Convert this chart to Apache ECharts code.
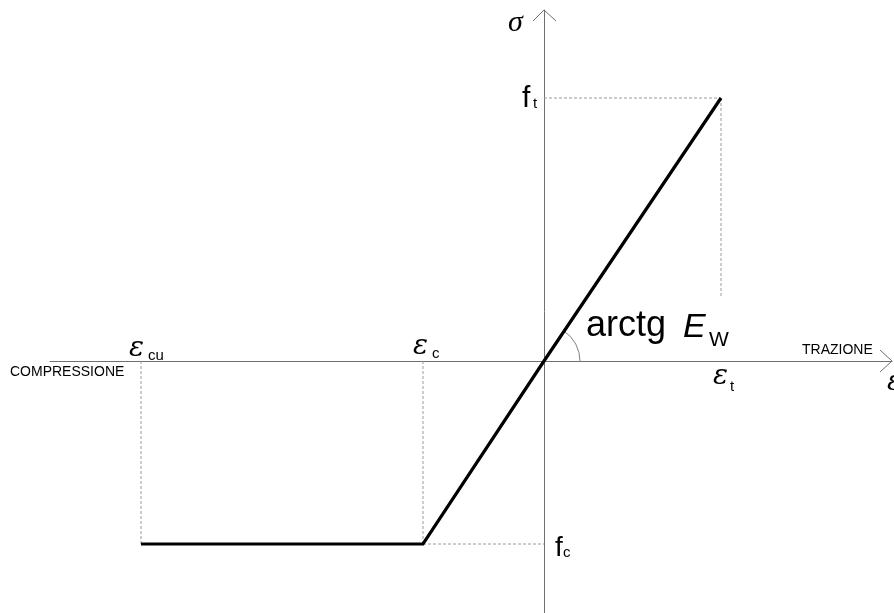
<!DOCTYPE html>
<html>
<head>
<meta charset="utf-8">
<script src="https://cdn.jsdelivr.net/npm/echarts@6/dist/echarts.min.js"></script>
<style>
  html, body { margin: 0; padding: 0; background: #fff; }
  #chart { width: 894px; height: 613px; }
</style>
</head>
<body>
<div id="chart"></div>
<script>
// Bilinear stress-strain law: compression plateau, linear elastic branch up to tensile strength.
const strainPoints = [-4.03, -1.21, 0, 1.77];   // eps_cu, eps_c, origin, eps_t
const stressPoints = [-1.83, -1.83, 0, 2.63];   // f_c, f_c, origin, f_t
const tensionGuideEnd = 0.65;                   // where the eps_t guide stops
const axisX = [-4.94, 3.48];
const axisY = [-2.52, 3.51];

const epsCu = strainPoints[0], epsC = strainPoints[1], epsT = strainPoints[3];
const fC = stressPoints[0], fT = stressPoints[3];

const lawData = strainPoints.map((e, i) => [e, stressPoints[i]]);

const guideStyle = { color: '#9a9a9a', width: 1, type: [3, 2] };
function guide(a, b) {
  return {
    type: 'line', data: [a, b], symbol: 'none', silent: true,
    lineStyle: guideStyle, z: 1
  };
}

const chart = echarts.init(document.getElementById('chart'), null, { renderer: 'canvas' });

chart.setOption({
  animation: false,
  backgroundColor: '#fff',
  grid: { left: 50, right: 2, top: 10, bottom: 0, containLabel: false },
  xAxis: {
    type: 'value', min: axisX[0], max: axisX[1],
    axisLine: { show: true, onZero: true, lineStyle: { color: '#707070', width: 1 } },
    axisTick: { show: false }, axisLabel: { show: false }, splitLine: { show: false }
  },
  yAxis: {
    type: 'value', min: axisY[0], max: axisY[1],
    axisLine: { show: true, onZero: true, lineStyle: { color: '#707070', width: 1 } },
    axisTick: { show: false }, axisLabel: { show: false }, splitLine: { show: false }
  },
  series: [
    guide([0, fT], [epsT, fT]),
    guide([epsT, fT], [epsT, tensionGuideEnd]),
    guide([epsCu, 0], [epsCu, fC]),
    guide([epsC, 0], [epsC, fC]),
    guide([epsC, fC], [0, fC]),
    {
      type: 'line', data: lawData, symbol: 'none', silent: true, z: 5,
      lineStyle: { color: '#000', width: 3.2, cap: 'butt', join: 'miter' }
    }
  ]
});

// Decorations positioned from the axis scale
const originPx = chart.convertToPixel({ gridIndex: 0 }, [0, 0]);
const yEndPx = chart.convertToPixel({ gridIndex: 0 }, [0, axisY[1]]);
const xEndPx = chart.convertToPixel({ gridIndex: 0 }, [axisX[1], 0]);
const tipPx = chart.convertToPixel({ gridIndex: 0 }, [epsT, fT]);
const slopeAngle = Math.atan2(originPx[1] - tipPx[1], tipPx[0] - originPx[0]);

const SANS = '"Liberation Sans", Arial, sans-serif';
const SERIF = '"Liberation Serif", "Times New Roman", serif';
const EPS = '"DejaVu Serif", serif';

function label(text, x, baseline, size, family, extra) {
  return {
    type: 'text', z: 10, silent: true,
    style: Object.assign({
      text: text, x: x, y: baseline - 0.33 * size,
      fill: '#000', align: 'left', verticalAlign: 'middle',
      font: size + 'px ' + family
    }, extra || {})
  };
}
function italic(text, x, baseline, size, family) {
  return label(text, x, baseline, size, family, { font: 'italic ' + size + 'px ' + family });
}

const arrowStyle = { stroke: '#707070', lineWidth: 1, fill: null };

chart.setOption({
  graphic: [
    { type: 'polyline', silent: true, shape: { points: [[yEndPx[0] - 11, yEndPx[1] + 11], [yEndPx[0], yEndPx[1]], [yEndPx[0] + 12, yEndPx[1] + 11]] }, style: arrowStyle },
    { type: 'polyline', silent: true, shape: { points: [[xEndPx[0] - 12, xEndPx[1] - 11], [xEndPx[0], xEndPx[1]], [xEndPx[0] - 12, xEndPx[1] + 11]] }, style: arrowStyle },
    {
      type: 'arc', silent: true,
      shape: { cx: originPx[0], cy: originPx[1], r: 36, startAngle: -slopeAngle, endAngle: 0, clockwise: true },
      style: { stroke: '#808080', lineWidth: 1, fill: null }
    },
    italic('σ', 508, 33, 30, SERIF),
    label('f', 522, 109, 30, SANS),
    label('t', 533, 109, 15, SANS),
    italic('ε', 129, 358, 28, EPS),
    label('cu', 148, 361, 15, SANS),
    italic('ε', 413, 356, 28, EPS),
    label('c', 432, 359, 15, SANS),
    italic('ε', 713, 386, 28, EPS),
    label('t', 730, 392, 15, SANS),
    italic('ε', 887, 392, 28, EPS),
    label('f', 555, 558, 28, SANS),
    label('c', 563, 558, 15, SANS),
    label('arctg', 586, 338, 36, SANS),
    italic('E', 683, 339, 34, SANS),
    label('W', 709, 347, 21, SANS),
    label('COMPRESSIONE', 10, 377, 14, SANS),
    label('TRAZIONE', 802, 355, 14, SANS)
  ]
});
</script>
</body>
</html>
